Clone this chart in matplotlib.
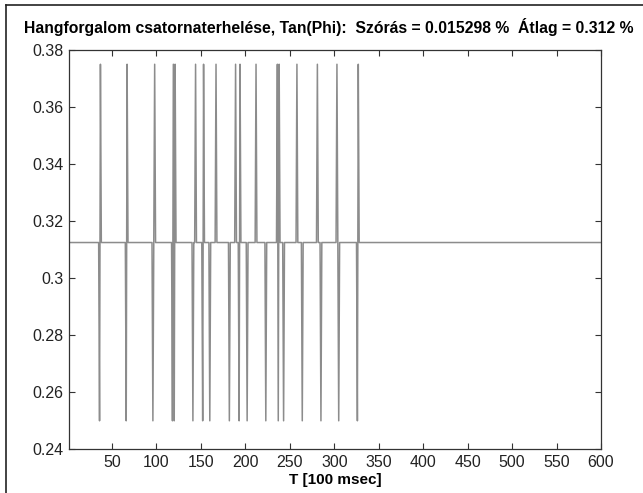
import matplotlib
matplotlib.use("Agg")
import matplotlib.pyplot as plt
from matplotlib.lines import Line2D
from matplotlib.ticker import FormatStrFormatter
import numpy as np

# values
n_samples = 600
baseline = 0.3125
up_value = 0.375
down_value = 0.25
up_times = [37, 67, 98, 119, 121, 144, 153, 167, 189, 194, 212, 236, 238, 258, 281, 303, 327]
down_times = [36, 66, 96, 118, 120, 141, 152, 160, 182, 193, 202, 223, 237, 243, 264, 285, 305, 326]

title = "Hangforgalom csatornaterhelése, Tan(Phi):  Szórás = 0.015298 %  Átlag = 0.312 %"
xlabel = "T [100 msec]"
xticks = [50, 100, 150, 200, 250, 300, 350, 400, 450, 500, 550, 600]
yticks = [0.24, 0.26, 0.28, 0.3, 0.32, 0.34, 0.36, 0.38]

t = np.arange(1, n_samples + 1)
y = np.full(n_samples, baseline)
for k in up_times:
    y[k - 1] = up_value
for k in down_times:
    y[k - 1] = down_value

plt.rcParams['font.family'] = ['Liberation Sans', 'DejaVu Sans']

fig = plt.figure(figsize=(6.43, 4.93), dpi=100)
ax = fig.add_axes([0.1078, 0.0886, 0.9347 - 0.1078, 0.8986 - 0.0886])

ax.plot(t, y, color='#8c8c8c', lw=1.1)

ax.set_xlim(2, 600)
ax.set_ylim(0.24, 0.38)
ax.set_xticks(xticks)
ax.set_yticks(yticks)
ax.yaxis.set_major_formatter(FormatStrFormatter('%g'))
ax.tick_params(direction='in', top=True, right=True, length=4, width=0.8,
               color='#333333', labelsize=11.5, labelcolor='#222222', pad=4)
for s in ax.spines.values():
    s.set_color('#333333')
    s.set_linewidth(0.9)

# title sits a bit left of the axes centre in the original
fig.text(329 / 643, 1 - 27 / 493, title, fontsize=11.3, fontweight='bold',
         ha='center', va='center')
ax.set_xlabel(xlabel, fontsize=11, fontweight='bold', labelpad=2)

# frame lines at left and top of the figure
fig.add_artist(Line2D([6 / 643, 6 / 643], [0, 1 - 5 / 493], transform=fig.transFigure,
                      color='#222222', lw=1.2))
fig.add_artist(Line2D([6 / 643, 1], [1 - 5 / 493, 1 - 5 / 493], transform=fig.transFigure,
                      color='#222222', lw=1.2))

fig.savefig("out.png", dpi=100)
